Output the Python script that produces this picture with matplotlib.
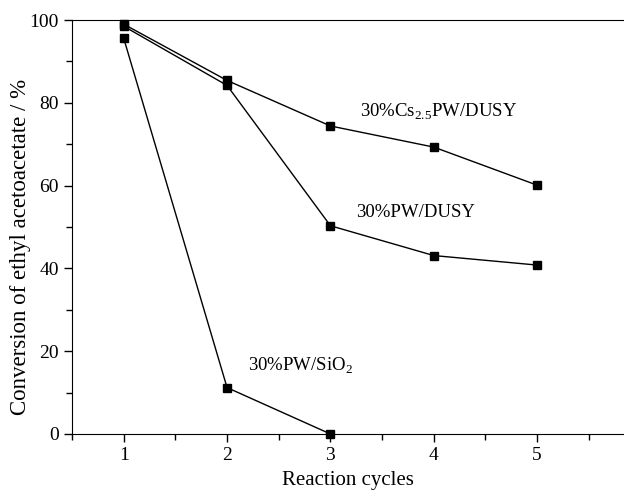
import matplotlib
matplotlib.use("Agg")
import matplotlib.pyplot as plt
from matplotlib.ticker import MultipleLocator

plt.rcParams['font.family'] = ['Liberation Serif', 'DejaVu Serif']
plt.rcParams['mathtext.fontset'] = 'custom'
plt.rcParams['mathtext.rm'] = 'Liberation Serif'

# данные
cycles = [1, 2, 3, 4, 5]
cs_dusy = [99.0, 85.4, 74.4, 69.3, 60.1]
pw_dusy = [98.5, 84.2, 50.3, 43.1, 40.8]
cycles_sio2 = [1, 2, 3]
pw_sio2 = [95.6, 11.2, 0.0]

fig = plt.figure(figsize=(6.24, 4.94), dpi=100)
ax = fig.add_axes([0.1154, 0.1215, 0.8846, 0.838])

style = dict(color="black", marker="s", markersize=6, linewidth=1.0, clip_on=False)
ax.plot(cycles, cs_dusy, **style)
ax.plot(cycles, pw_dusy, **style)
ax.plot(cycles_sio2, pw_sio2, **style)

ax.text(3.29, 75.3, "30%Cs$_{2.5}$PW/DUSY", fontsize=13.5, va="bottom")
ax.text(3.25, 51.5, "30%PW/DUSY", fontsize=13.5, va="bottom")
ax.text(2.2, 14.0, "30%PW/SiO$_2$", fontsize=13.5, va="bottom")

ax.set_xlim(0.5, 5.84)
ax.set_ylim(0, 100)
ax.xaxis.set_major_locator(MultipleLocator(1))
ax.xaxis.set_minor_locator(MultipleLocator(0.5))
ax.yaxis.set_major_locator(MultipleLocator(20))
ax.yaxis.set_minor_locator(MultipleLocator(10))
ax.tick_params(which="both", direction="out", labelsize=14, width=1.0)
ax.tick_params(which="major", length=6)
ax.tick_params(which="minor", length=4)
ax.spines["right"].set_visible(False)

ax.set_xlabel("Reaction cycles", fontsize=15, labelpad=5)
ax.set_ylabel("Conversion of ethyl acetoacetate / %", fontsize=16.5)
ax.yaxis.set_label_coords(-0.074, 0.452)

fig.savefig("out.png", dpi=100)
